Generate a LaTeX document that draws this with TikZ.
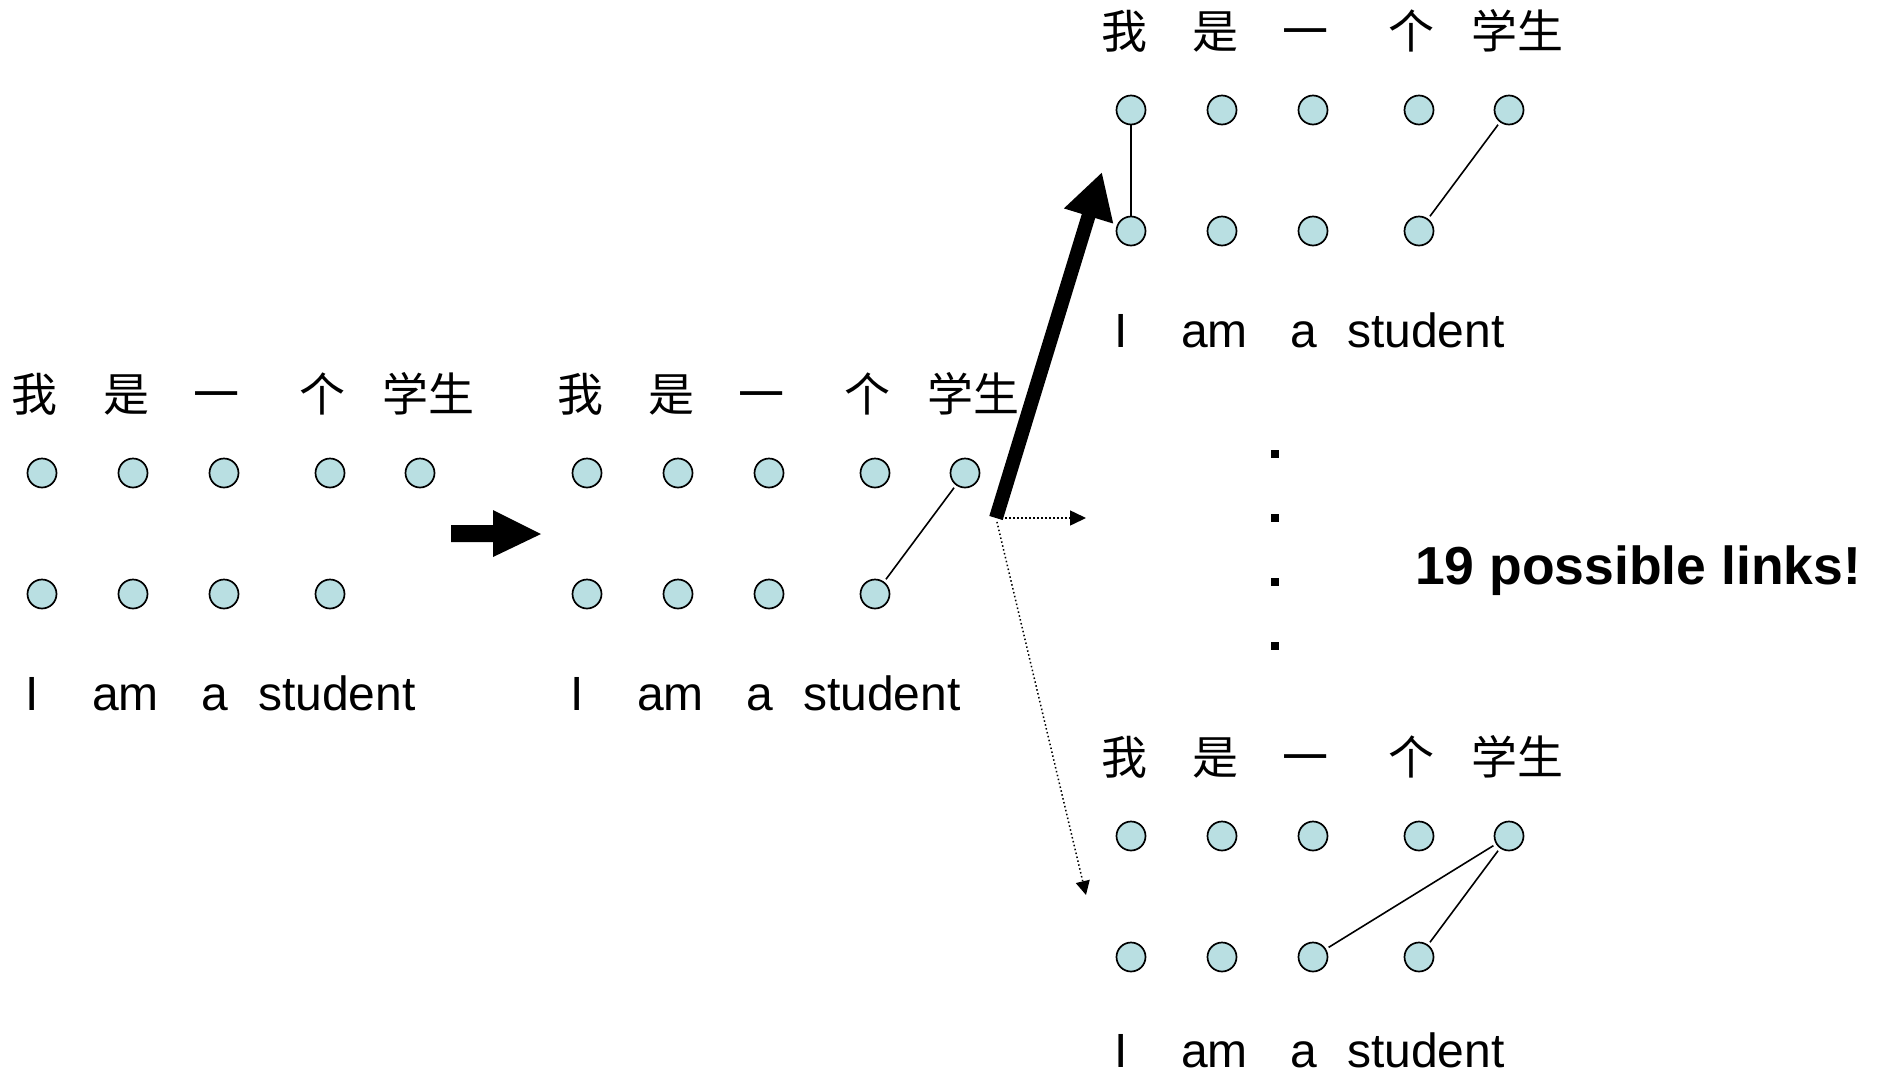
\documentclass[tikz,border=0pt]{standalone}
\usepackage{fontspec}
\setmainfont{Liberation Sans}
\newfontfamily\cjk{Noto Sans CJK SC}
\usetikzlibrary{arrows.meta}
\definecolor{dotfill}{RGB}{185,223,226}
\tikzset{
  wordpt/.style={circle, draw=black, line width=1.7pt, fill=dotfill, minimum size=29pt, inner sep=0pt},
  zh/.style={font=\cjk\fontsize{46}{50}\selectfont, inner sep=0pt, anchor=base},
  en/.style={font=\fontsize{48}{52}\selectfont, inner sep=0pt, text depth=0pt, anchor=base west},
  link/.style={line width=1.6pt, shorten <=3pt, shorten >=3pt},
  vdot/.style={rectangle, fill=black, minimum size=8pt, inner sep=0pt},
  dotarrow/.style={line width=1.5pt, dash pattern=on 1.5pt off 2.5pt},
  bigcount/.style={font=\bfseries\fontsize{53.5}{58}\selectfont, inner sep=0pt, anchor=base west}
}
% #1,#2 shift; #3 name prefix; #4 baseline of the English words
\newcommand\wordgroup[4]{%
  \begin{scope}[shift={(#1,#2)}]
    \node[zh] (#3z0) at (35,411) {我};
    \node[zh] (#3z1) at (126,411) {是};
    \node[zh] (#3z2) at (216,411) {一};
    \node[zh] (#3z3) at (322,411) {个};
    \node[zh] (#3z4) at (428,411) {学生};
    \node[wordpt] (#3t0) at (42,473) {};
    \node[wordpt] (#3t1) at (133,473) {};
    \node[wordpt] (#3t2) at (224,473) {};
    \node[wordpt] (#3t3) at (330,473) {};
    \node[wordpt] (#3t4) at (420,473) {};
    \node[wordpt] (#3b0) at (42,594) {};
    \node[wordpt] (#3b1) at (133,594) {};
    \node[wordpt] (#3b2) at (224,594) {};
    \node[wordpt] (#3b3) at (330,594) {};
    \node[en] (#3e0) at (25,#4) {I};
    \node[en] (#3e1) at (92,#4) {am};
    \node[en] (#3e2) at (201,#4) {a};
    \node[en] (#3e3) at (258,#4) {student};
  \end{scope}}
\begin{document}
\begin{tikzpicture}[x=1pt,y=-1pt]
  \useasboundingbox (0,0) rectangle (1881,1079);
  \wordgroup{0}{0}{l}{710}
  \wordgroup{545}{0}{m}{710}
  \wordgroup{1089}{-363}{a}{710}
  \wordgroup{1089}{363}{c}{704}

  % links
  \draw[link] (mt4) -- (mb3);
  \draw[line width=1.6pt] (at0) -- (ab0);
  \draw[link] (at4) -- (ab3);
  \draw[link] (ct4) -- (cb2);
  \draw[link] (ct4) -- (cb3);

  % block arrow
  \fill[black] (451,525) -- (493,525) -- (493,510) -- (541,534) -- (493,557) -- (493,542) -- (451,542) -- cycle;

  % thick and dotted arrows
  \coordinate (hub) at (996,518);
  \coordinate (uptip) at (1102,172);
  \coordinate (midtip) at (1086,518);
  \coordinate (lowtip) at (1086,895);
  \draw[line width=14pt, -{Triangle[length=46pt,width=48pt]}] (hub) -- (uptip);
  \draw[dotarrow, shorten <=9pt, -{Triangle[length=16pt,width=15pt]}] (hub) -- (midtip);
  \draw[dotarrow, shorten <=4pt, -{Triangle[length=14pt,width=14pt]}] (hub) -- (lowtip);

  % vertical dots
  \node[vdot] (d1) at (1275,454) {};
  \node[vdot] (d2) at (1275,518) {};
  \node[vdot] (d3) at (1275,582) {};
  \node[vdot] (d4) at (1275,646) {};

  \node[bigcount] (count) at (1415,584) {19 possible links!};
\end{tikzpicture}
\end{document}
